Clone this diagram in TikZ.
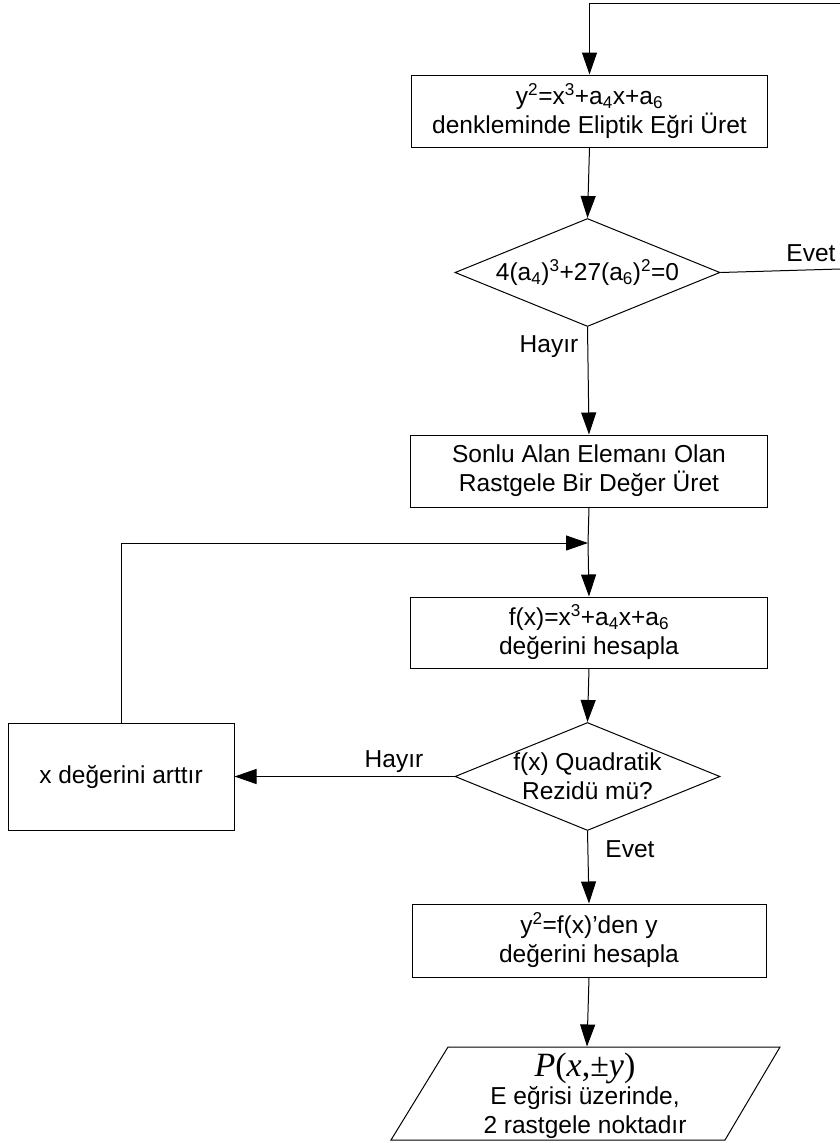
\documentclass[tikz,border=0pt]{standalone}
\usepackage{fontspec}
\setmainfont{Liberation Sans}
\newfontfamily\serifface{Liberation Serif}
\usetikzlibrary{arrows.meta,shapes.geometric}

\begin{document}
\begin{tikzpicture}[x=1pt,y=-1pt,
    line width=1pt,
    font=\fontsize{24.5}{29}\selectfont,
    arr/.style={-{Triangle[length=22pt,width=15pt]}},
    procbox/.style={draw, rectangle, inner sep=0pt, align=center},
    decision/.style={draw, diamond, inner sep=0pt, minimum width=265pt, minimum height=108pt},
    lbl/.style={inner sep=0pt}]
  \useasboundingbox (0,0) rectangle (840,1143);

  % process boxes
  \node[procbox, minimum width=356pt, minimum height=72pt] (gen) at (589.5,111)
    {y\textsuperscript{2}=x\textsuperscript{3}+a\textsubscript{4}x+a\textsubscript{6}\\denkleminde Eliptik Eğri Üret};
  \node[decision] (chk) at (587.5,272.5) {};
  \node[lbl] at (chk) {4(a\textsubscript{4})\textsuperscript{3}+27(a\textsubscript{6})\textsuperscript{2}=0};

  \node[procbox, minimum width=357pt, minimum height=72pt] (rnd) at (589,471)
    {Sonlu Alan Elemanı Olan\\Rastgele Bir Değer Üret};
  \node[procbox, minimum width=357pt, minimum height=71pt] (fx) at (589,632.5)
    {f(x)=x\textsuperscript{3}+a\textsubscript{4}x+a\textsubscript{6}\\değerini hesapla};

  \node[decision] (qr) at (587.5,776.5) {};
  \node[lbl, align=center] at (qr) {f(x) Quadratik\\Rezidü mü?};

  \node[procbox, minimum width=226pt, minimum height=107pt] (inc) at (121,776.5)
    {x değerini arttır};

  \node[procbox, minimum width=354pt, minimum height=73pt] (ycalc) at (589,940.5)
    {y\textsuperscript{2}=f(x)’den y\\değerini hesapla};

  % output parallelogram
  \coordinate (p1) at (448,1047);
  \coordinate (p2) at (780,1047);
  \coordinate (p3) at (725,1140);
  \coordinate (p4) at (391,1140);
  \draw (p1) -- (p2) -- (p3) -- (p4) -- cycle;
  \node[inner sep=0pt, minimum width=280pt, minimum height=93pt] (res) at (587,1093.5) {};
  \node[lbl, align=center] at (585,1096)
    {{\serifface\fontsize{34}{34}\selectfont\itshape P\upshape(\itshape x\upshape,±\itshape y\upshape)}\\[-1pt]
     E eğrisi üzerinde,\\2 rastgele noktadır};

  % connectors
  \coordinate (topr) at (840,3);
  \coordinate (evr) at (840,269);
  \coordinate (merge) at (588,543);
  \draw[arr] (topr) -| (gen.north);
  \draw[arr] (gen.south) -- (chk.north);
  \draw (chk.east) -- (evr);
  \draw[arr] (chk.south) -- (rnd.north);
  \draw (rnd.south) -- (merge);
  \draw[arr] (merge) -- (fx.north);
  \draw[arr] (inc.north) |- (merge);
  \draw[arr] (fx.south) -- (qr.north);
  \draw[arr] (qr.west) -- (inc.east);
  \draw[arr] (qr.south) -- (ycalc.north);
  \draw[arr] (ycalc.south) -- (res.north);

  % branch labels
  \node[lbl] at (811,253) {Evet};
  \node[lbl] at (549,347) {Hayır};
  \node[lbl] at (394,762) {Hayır};
  \node[lbl] at (630,849) {Evet};
\end{tikzpicture}
\end{document}
